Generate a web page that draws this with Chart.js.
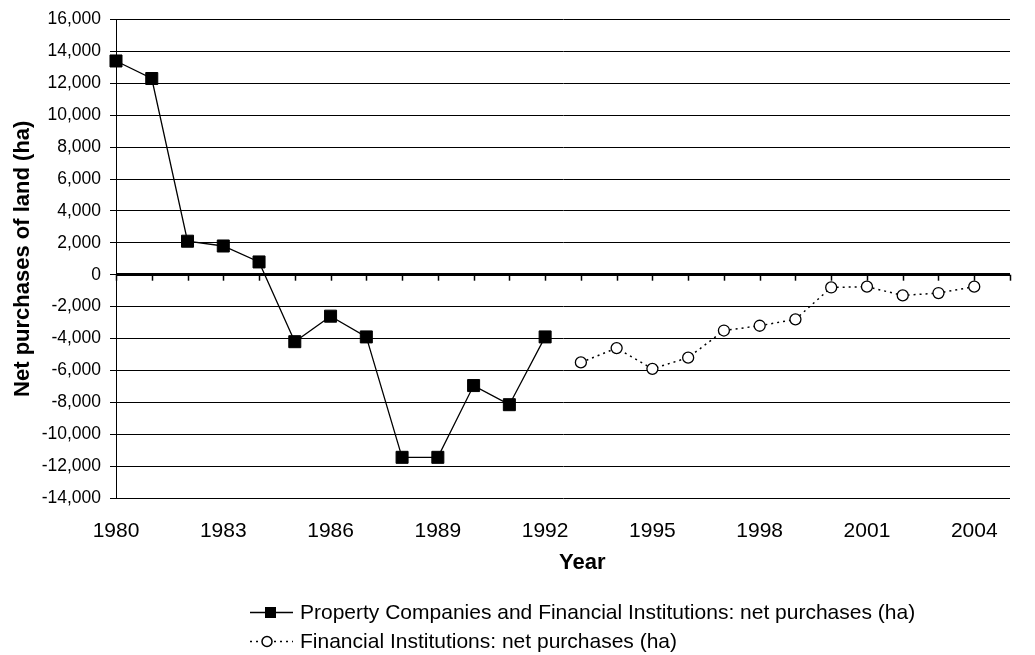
<!DOCTYPE html>
<html>
<head>
<meta charset="utf-8">
<script src="https://cdn.jsdelivr.net/npm/chart.js@4.4.1/dist/chart.umd.min.js"></script>
<style>
  body { margin: 0; background: #fff; font-family: 'Liberation Sans', Arial, sans-serif; }
  #wrap { position: relative; width: 1035px; height: 655px; }
  #legend { position: absolute; left: 250px; top: 597px; font-size: 21px; color: #000; }
  .row { display: flex; align-items: center; height: 29px; }
  .row canvas { margin-right: 7px; }
</style>
</head>
<body>
<div id="wrap">
  <canvas id="myChart"></canvas>
  <div id="legend"></div>
</div>
<script>
// Categories (one per year) and the two series
const years = ['1980', '1981', '1982', '1983', '1984', '1985', '1986', '1987', '1988',
  '1989', '1990', '1991', '1992', '1993', '1994', '1995', '1996', '1997', '1998',
  '1999', '2000', '2001', '2002', '2003', '2004', '2005'];

// 1980-1992
const propertyAndFinancial = [13400, 12300, 2100, 1800, 800, -4200, -2600, -3900,
  -11450, -11450, -6950, -8150, -3900];

// 1993-2004
const financialOnly = [-5500, -4600, -5900, -5200, -3500, -3200, -2800, -800,
  -750, -1300, -1150, -750];

const seriesNames = [
  'Property Companies and Financial Institutions: net purchases (ha)',
  'Financial Institutions: net purchases (ha)'
];

const yMin = -14000, yMax = 16000, yStep = 2000;

// pad series out to the full category list
const data1 = years.map((y, i) => i < propertyAndFinancial.length ? propertyAndFinancial[i] : null);
const start2 = propertyAndFinancial.length;
const data2 = years.map((y, i) => {
  const k = i - start2;
  return k >= 0 && k < financialOnly.length ? financialOnly[k] : null;
});

const FONT = "'Liberation Sans', Arial, sans-serif";

// small ticks hanging off the zero line, one per category
const zeroTicks = {
  id: 'zeroTicks',
  beforeDatasetsDraw(chart) {
    const { ctx, scales: { x, y } } = chart;
    const y0 = y.getPixelForValue(0);
    ctx.save();
    ctx.strokeStyle = '#000';
    ctx.lineWidth = 1.5;
    for (let i = 0; i < years.length; i++) {
      const px = Math.round(x.getPixelForTick(i)) + 0.5;
      ctx.beginPath();
      ctx.moveTo(px, y0);
      ctx.lineTo(px, y0 + 6);
      ctx.stroke();
    }
    ctx.restore();
  }
};

// x axis title sits a little right of centre in the original
const xTitle = {
  id: 'xTitle',
  afterDraw(chart) {
    const { ctx, chartArea } = chart;
    ctx.save();
    ctx.fillStyle = '#000';
    ctx.font = 'bold 22px ' + FONT;
    ctx.textAlign = 'left';
    ctx.textBaseline = 'middle';
    ctx.fillText('Year', chartArea.left + 443, 563);
    ctx.restore();
  }
};

const ctx = document.getElementById('myChart').getContext('2d');
new Chart(ctx, {
  type: 'line',
  data: {
    labels: years,
    datasets: [{
      label: seriesNames[0],
      data: data1,
      borderColor: '#000',
      borderWidth: 1.3,
      pointStyle: 'rect',
      pointRadius: 8.5,
      pointBackgroundColor: '#000',
      pointBorderColor: '#000',
      pointBorderWidth: 1,
      tension: 0
    }, {
      label: seriesNames[1],
      data: data2,
      borderColor: '#000',
      borderWidth: 1.5,
      borderDash: [2, 4],
      pointStyle: 'circle',
      pointRadius: 5.5,
      pointBackgroundColor: '#fff',
      pointBorderColor: '#000',
      pointBorderWidth: 1.3,
      tension: 0
    }]
  },
  options: {
    responsive: true,
    maintainAspectRatio: false,
    animation: false,
    layout: { padding: { left: 0, right: 25, top: 17, bottom: 82 } },
    plugins: {
      legend: { display: false },
      tooltip: { enabled: false }
    },
    scales: {
      x: {
        grid: { display: false, drawTicks: false },
        border: { display: false },
        ticks: {
          autoSkip: false,
          maxRotation: 0,
          padding: 21,
          color: '#000',
          font: { family: FONT, size: 21 },
          callback: (v, i) => (i % 3 === 0 ? years[i] : '')
        },
        afterFit: s => { s.height = 75; }
      },
      y: {
        min: yMin,
        max: yMax,
        ticks: {
          stepSize: yStep,
          padding: 9,
          color: '#000',
          font: { family: FONT, size: 17.5 },
          callback: v => v.toLocaleString('en-US')
        },
        grid: {
          color: '#000',
          lineWidth: c => (c.tick && c.tick.value === 0 ? 3 : 1),
          tickLength: 6,
          tickWidth: 1,
          tickColor: '#000'
        },
        border: { display: true, color: '#000', width: 1 },
        title: {
          display: true,
          text: 'Net purchases of land (ha)',
          color: '#000',
          font: { family: FONT, size: 22, weight: 'bold' },
          padding: { top: 10, bottom: 0 }
        },
        afterFit: s => { s.width = 116; }
      }
    }
  },
  plugins: [zeroTicks, xTitle]
});

// legend: line + marker swatch, then the name
function swatch(kind) {
  const c = document.createElement('canvas');
  c.width = 43; c.height = 20;
  const g = c.getContext('2d');
  g.strokeStyle = '#000';
  g.lineWidth = kind === 'rect' ? 1.3 : 1.5;
  if (kind !== 'rect') g.setLineDash([2, 4]);
  g.beginPath(); g.moveTo(0, 10.5); g.lineTo(43, 10.5); g.stroke();
  g.setLineDash([]);
  if (kind === 'rect') {
    g.fillStyle = '#000';
    g.fillRect(15, 5, 11, 11);
  } else {
    g.fillStyle = '#fff';
    g.beginPath(); g.arc(17, 10.5, 5, 0, Math.PI * 2); g.fill(); g.stroke();
  }
  return c;
}
const legend = document.getElementById('legend');
['rect', 'circle'].forEach((kind, i) => {
  const row = document.createElement('div');
  row.className = 'row';
  row.appendChild(swatch(kind));
  const t = document.createElement('span');
  t.textContent = seriesNames[i];
  row.appendChild(t);
  legend.appendChild(row);
});
</script>
</body>
</html>
